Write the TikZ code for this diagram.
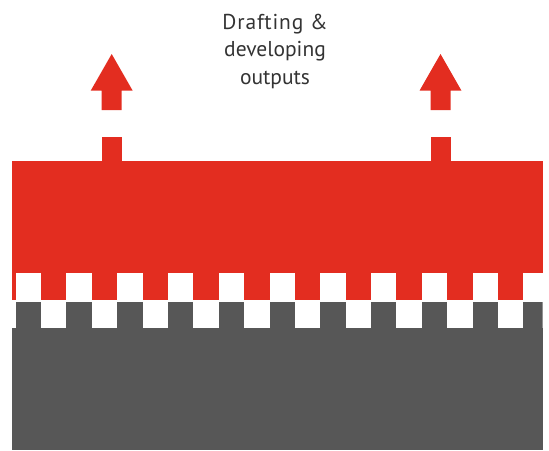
\documentclass[tikz,border=0pt]{standalone}
\usepackage{fontspec}
\setmainfont{PT Sans}
\usetikzlibrary{positioning}
\definecolor{bandred}{HTML}{E32D20}
\definecolor{bandgray}{HTML}{575757}
\tikzset{
  redpart/.style={fill=bandred, draw=none},
  graypart/.style={fill=bandgray, draw=none},
  caption/.style={align=center, inner sep=0pt,
                  font=\fontsize{21.5}{27.5}\selectfont, text=black!80},
}

\begin{document}
\begin{tikzpicture}[x=1pt, y=-1pt]
  \useasboundingbox (0,0) rectangle (549,450);
  % upper band with its two outputs
  \fill[redpart] (12,161) rectangle (542.7,273.3);
  \foreach \cx in {111.7, 440.5} {
    \fill[redpart] (\cx-10,136.7) rectangle (\cx+10,161.5);
    \fill[redpart] (\cx,54) -- (\cx+21,90.7) -- (\cx+10,90.7) -- (\cx+10,110)
      -- (\cx-10,110) -- (\cx-10,90.7) -- (\cx-21,90.7) -- cycle;
  }
  % interlocking teeth
  \begin{scope}
    \clip (12,260) rectangle (542.7,330);
    \foreach \k in {-1,...,10} {
      \fill[redpart] (41+50.78*\k,273) rectangle +(25.39,26.5);
      \fill[graypart] (15.6+50.78*\k,301.7) rectangle +(25.39,26.5);
    }
  \end{scope}
  % lower band
  \fill[graypart] (12,327.7) rectangle (542.7,450);
  \node[caption] (title) at (275,51) {\addfontfeature{LetterSpace=4}Drafting \&\\developing\\outputs};
\end{tikzpicture}
\end{document}
